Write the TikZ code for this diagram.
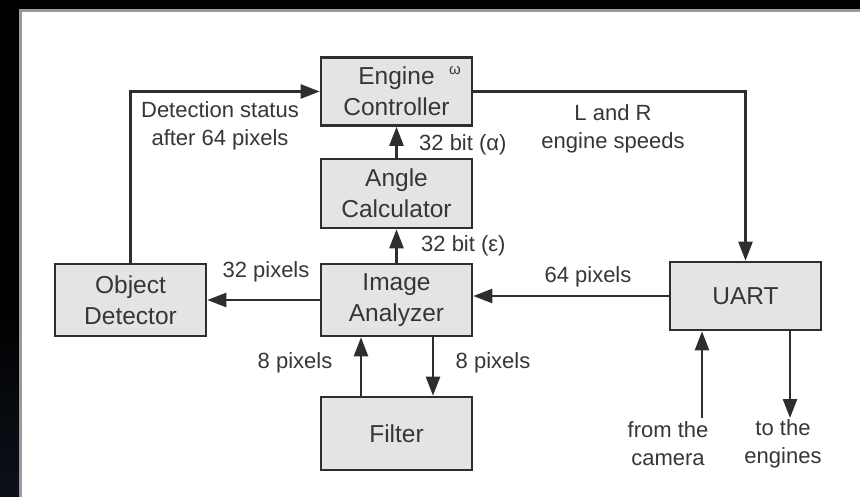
\documentclass[tikz,border=0pt]{standalone}
\usepackage{fontspec}
\setmainfont{Liberation Sans}
\usetikzlibrary{arrows.meta,calc}
\definecolor{ink}{HTML}{2E2E2E}
\definecolor{txt}{HTML}{363636}
\definecolor{boxfill}{HTML}{E4E4E4}
\definecolor{edge}{HTML}{9A9A9A}
\definecolor{navy}{HTML}{0C1119}
\tikzset{
  block/.style={draw=ink, fill=boxfill, line width=2.6pt, minimum width=151pt,
    inner sep=0pt, align=center, text=txt,
    font=\fontsize{24.5}{31}\selectfont},
  lbl/.style={text=txt, align=center, inner sep=0pt,
    font=\fontsize{22}{28}\selectfont},
  arr/.style={draw=ink, line width=2.4pt,
    -{Triangle[length=19pt,width=14pt]}},
  wire/.style={draw=ink, line width=2.4pt}
}
\begin{document}
\begin{tikzpicture}[x=1pt,y=-1pt]
  % frame: dark surround with a white sheet
  \useasboundingbox (0,0) rectangle (860,496);
  \fill[black] (0,0) rectangle (860,496);
  \shade[top color=black, bottom color=navy] (0,300) rectangle (20,496);
  \fill[white, draw=edge, line width=3pt] (20.5,10.5) rectangle (863,499);

  % blocks
  \node[block, minimum height=68pt] (ec) at (396.5,91.5) {Engine\\Controller};
  \node[text=txt, inner sep=0pt, font=\fontsize{15}{15}\selectfont] (omega) at (455,71) {ω};
  \node[block, minimum height=69pt] (ac) at (396.5,193.5) {Angle\\Calculator};
  \node[block, minimum height=72pt] (ia) at (396.5,300) {Image\\Analyzer};
  \node[block, minimum height=72pt] (od) at (130.5,300) {Object\\Detector};
  \node[block, minimum height=73pt] (fi) at (396.5,433.5) {Filter};
  \node[block, minimum height=68pt] (ua) at (745.5,296) {UART};

  % loose ends
  \coordinate (cam) at (702,418);
  \coordinate (eng) at (790,418);

  % connectors
  \draw[arr] (od.north) |- (ec.west);
  \draw[arr] (ac.north) -- (ec.south);
  \draw[arr] (ia.north) -- (ac.south);
  \draw[arr] (ia.west) -- (od.east);
  \draw[arr] (ua.west) -- (ua.west -| ia.east);
  \draw[arr] (ec.east) -| (ua.north);
  \draw[arr] ([xshift=-35.5pt]fi.north) -- ([xshift=-35.5pt]ia.south);
  \draw[arr] ([xshift=36.5pt]ia.south) -- ([xshift=36.5pt]fi.north);
  \draw[arr] (cam) -- (cam |- ua.south);
  \draw[arr] (eng |- ua.south) -- (eng);

  % labels
  \node[lbl] (ldet) at (220,126) {Detection status\\after 64 pixels};
  \node[lbl, anchor=west] (lalpha) at (419,145) {32 bit (α)};
  \node[lbl, anchor=west] (leps) at (421,246) {32 bit (ε)};
  \node[lbl] (lspeed) at (613,128.5) {L and R\\engine speeds};
  \node[lbl] (l32) at (266,272) {32 pixels};
  \node[lbl] (l64) at (588,277) {64 pixels};
  \node[lbl] (l8a) at (295,363) {8 pixels};
  \node[lbl] (l8b) at (493,363) {8 pixels};
  \node[lbl] (lcam) at (668,444) {from the\\camera};
  \node[lbl] (leng) at (783,444) {to the\\engines};
\end{tikzpicture}
\end{document}
